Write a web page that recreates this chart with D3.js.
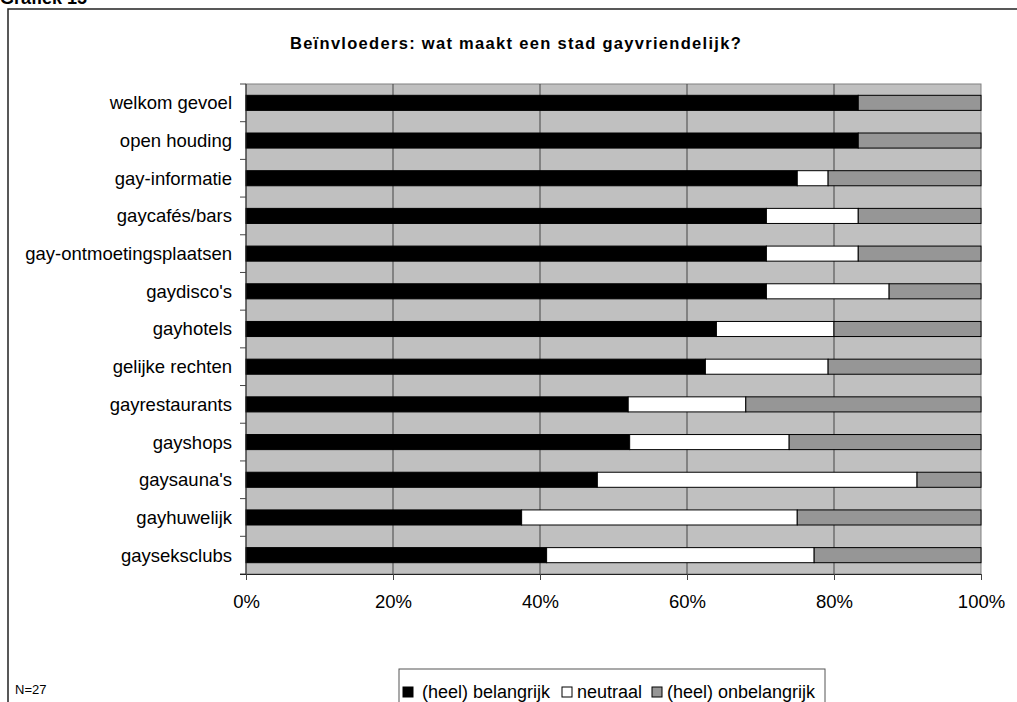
<!DOCTYPE html>
<html>
<head>
<meta charset="utf-8">
<script src="https://cdn.jsdelivr.net/npm/d3@7"></script>
<style>
  body { margin: 0; background: #fff; }
  svg { display: block; font-family: Arial, "Liberation Sans", sans-serif; }
</style>
</head>
<body>
<svg id="chart" width="1017" height="702"></svg>
<script>
const categories = ['welkom gevoel', 'open houding', 'gay-informatie', 'gaycafés/bars',
    'gay-ontmoetingsplaatsen', "gaydisco's", 'gayhotels', 'gelijke rechten',
    'gayrestaurants', 'gayshops', "gaysauna's", 'gayhuwelijk', 'gayseksclubs'];
const belangrijk   = [83.3, 83.3, 75.0, 70.8, 70.8, 70.8, 64.0, 62.5, 52.0, 52.2, 47.8, 37.5, 40.9];
const neutraal     = [0, 0, 4.2, 12.5, 12.5, 16.7, 16.0, 16.7, 16.0, 21.7, 43.5, 37.5, 36.4];
const onbelangrijk = [16.7, 16.7, 20.8, 16.7, 16.7, 12.5, 20.0, 20.8, 32.0, 26.1, 8.7, 25.0, 22.7];
const seriesNames = ['(heel) belangrijk', 'neutraal', '(heel) onbelangrijk'];
const xTicks = [0, 20, 40, 60, 80, 100];

class StackedBarChart {
    constructor() {
        this.svg = d3.select('#chart');

        this.PLOT = {left: 246, right: 981, top: 84, bottom: 574};
        this.COLORS = ['#000000', '#ffffff', '#969696'];
        this.FONT = 18.5;

        this.rows = categories.map((c, i) => ({
            name: c,
            vals: [belangrijk[i], neutraal[i], onbelangrijk[i]]
        }));

        this.xScale = d3.scaleLinear()
            .domain([0, 100])
            .range([this.PLOT.left, this.PLOT.right]);

        this.yScale = d3.scaleBand()
            .domain(categories)
            .range([this.PLOT.top, this.PLOT.bottom])
            .padding(0);

        this.drawChart();
    }

    drawChart() {
        this.drawFrame();
        this.drawPlotArea();
        this.drawBars();
        this.drawAxis();
        this.drawLegend();
    }

    drawFrame() {
        // the outer chart border runs off the right and bottom of the picture
        this.svg.append('rect')
            .attr('x', 8).attr('y', 9)
            .attr('width', 1100).attr('height', 800)
            .attr('fill', 'none')
            .attr('stroke', '#222')
            .attr('stroke-width', 1.5);

        this.svg.append('text')
            .attr('x', 0).attr('y', 4)
            .attr('font-size', 18).attr('font-weight', 'bold')
            .text('Grafiek 15');

        this.svg.append('text')
            .attr('x', 516).attr('y', 49)
            .attr('text-anchor', 'middle')
            .attr('font-size', 16.5).attr('font-weight', 'bold')
            .attr('letter-spacing', 1.3)
            .text('Beïnvloeders: wat maakt een stad gayvriendelijk?');

        this.svg.append('text')
            .attr('x', 15).attr('y', 694)
            .attr('font-size', 13)
            .text('N=27');
    }

    drawPlotArea() {
        let p = this.PLOT;
        this.svg.append('rect')
            .attr('x', p.left).attr('y', p.top)
            .attr('width', p.right - p.left).attr('height', p.bottom - p.top)
            .attr('fill', '#c0c0c0')
            .attr('stroke', '#808080');

        this.svg.append('g')
            .selectAll('line')
            .data(xTicks.slice(1, -1))
            .join('line')
            .attr('x1', d => this.xScale(d)).attr('x2', d => this.xScale(d))
            .attr('y1', p.top).attr('y2', p.bottom)
            .attr('stroke', '#444');
    }

    drawBars() {
        let barH = this.yScale.bandwidth() * 0.4;
        let segs = [];
        this.rows.forEach(r => {
            let x0 = 0;
            r.vals.forEach((v, k) => {
                if (v > 0) segs.push({name: r.name, x0: x0, x1: x0 + v, k: k});
                x0 += v;
            });
        });

        this.svg.append('g')
            .selectAll('rect')
            .data(segs)
            .join('rect')
            .attr('x', d => this.xScale(d.x0))
            .attr('width', d => this.xScale(d.x1) - this.xScale(d.x0))
            .attr('y', d => this.yScale(d.name) + (this.yScale.bandwidth() - barH) / 2)
            .attr('height', barH)
            .attr('fill', d => this.COLORS[d.k])
            .attr('stroke', '#000');
    }

    drawAxis() {
        let p = this.PLOT;

        // y axis: ticks between the categories
        let yAxis = this.svg.append('g');
        yAxis.append('line')
            .attr('x1', p.left).attr('x2', p.left)
            .attr('y1', p.top).attr('y2', p.bottom)
            .attr('stroke', '#222');
        let bounds = categories.map(c => this.yScale(c)).concat([p.bottom]);
        yAxis.selectAll('.tick')
            .data(bounds)
            .join('line')
            .attr('x1', p.left - 6).attr('x2', p.left)
            .attr('y1', d => d).attr('y2', d => d)
            .attr('stroke', '#444');
        yAxis.selectAll('text')
            .data(categories)
            .join('text')
            .attr('x', 232)
            .attr('y', d => this.yScale(d) + this.yScale.bandwidth() / 2)
            .attr('dy', '0.35em')
            .attr('text-anchor', 'end')
            .attr('font-size', this.FONT)
            .attr('fill', '#000')
            .text(d => d);

        // x axis
        let xAxis = d3.axisBottom(this.xScale)
            .tickValues(xTicks)
            .tickSize(6)
            .tickSizeOuter(0)
            .tickFormat(d => d + '%');
        let xg = this.svg.append('g')
            .attr('transform', `translate(0, ${p.bottom})`)
            .call(xAxis);
        xg.select('.domain')
            .attr('d', `M${p.left - 6},0.5H${p.right}`)
            .attr('stroke', '#222');
        xg.selectAll('.tick line').attr('stroke', '#444');
        xg.selectAll('.tick text')
            .attr('y', 21)
            .attr('font-size', this.FONT)
            .attr('font-family', 'Arial, "Liberation Sans", sans-serif')
            .attr('fill', '#000');
    }

    drawLegend() {
        let lg = this.svg.append('g');
        lg.append('rect')
            .attr('x', 399).attr('y', 669)
            .attr('width', 426).attr('height', 60)
            .attr('fill', '#fff')
            .attr('stroke', '#555');

        let items = [
            {name: seriesNames[0], sx: 403, tx: 422},
            {name: seriesNames[1], sx: 562, tx: 577},
            {name: seriesNames[2], sx: 652, tx: 667}
        ];
        lg.selectAll('.sw')
            .data(items)
            .join('rect')
            .attr('x', d => d.sx).attr('y', 687)
            .attr('width', 10).attr('height', 10)
            .attr('fill', (d, i) => this.COLORS[i])
            .attr('stroke', '#000');
        lg.selectAll('text')
            .data(items)
            .join('text')
            .attr('x', d => d.tx).attr('y', 698)
            .attr('font-size', 18)
            .attr('fill', '#000')
            .text(d => d.name);
    }
}

new StackedBarChart();
</script>
</body>
</html>
